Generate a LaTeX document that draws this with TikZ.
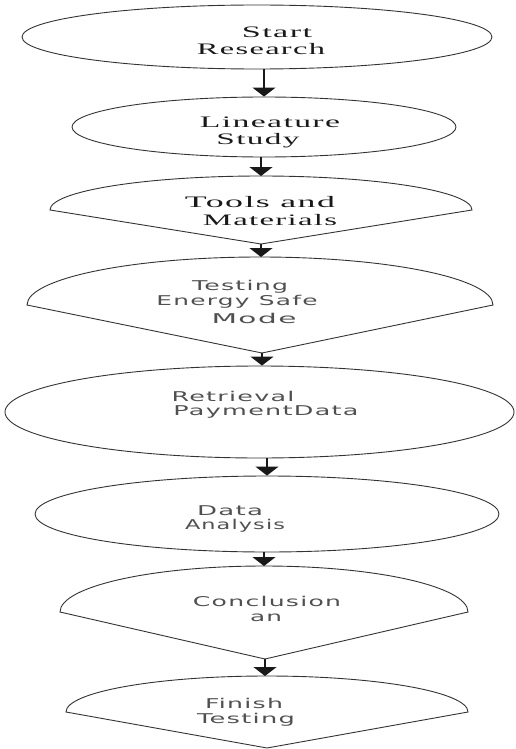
\documentclass[tikz,border=0pt]{standalone}
\usepackage{fontspec}
\usepackage{graphicx}
\usetikzlibrary{shapes.geometric,arrows.meta}
\newfontfamily\serifsp[LetterSpace=4]{Liberation Serif}
\newfontfamily\sanssp[LetterSpace=5]{DejaVu Sans}
\newcommand\stretchto[2]{\resizebox{#1}{\height}{#2}}
\definecolor{sanstext}{HTML}{505050}
\begin{document}
\begin{tikzpicture}[x=1pt,y=-1pt,
  shapeline/.style={draw=black!80, line width=0.9pt},
  ell/.style={shapeline, ellipse, inner sep=0pt},
  sline/.style={anchor=base, inner sep=0pt, font=\serifsp\fontsize{16}{18}\selectfont, text=black!90},
  aline/.style={anchor=base, inner sep=0pt, font=\sanssp\fontsize{13.5}{16}\selectfont, text=sanstext},
  flow/.style={draw=black!90, line width=1.6pt, -{Triangle[width=23pt,length=9pt]}}]
\useasboundingbox (0,0) rectangle (515,749);

% ellipses
\node[ell, minimum width=470pt, minimum height=64pt] (e1) at (257,37) {};
\node[ell, minimum width=384pt, minimum height=60pt] (e2) at (264,127) {};
\node[ell, minimum width=509pt, minimum height=92pt] (e5) at (259.5,412) {};
\node[ell, minimum width=464pt, minimum height=76pt] (e6) at (267,514) {};

% shields
\coordinate (s3l) at (50,210);  \coordinate (s3top) at (261,176); \coordinate (s3tip) at (261,244);
\coordinate (s4l) at (27,305);  \coordinate (s4top) at (260,257); \coordinate (s4tip) at (262,353);
\coordinate (s7l) at (60,612);  \coordinate (s7top) at (264,566); \coordinate (s7tip) at (265,659);
\coordinate (s8l) at (66,712);  \coordinate (s8top) at (267,676); \coordinate (s8tip) at (267,748);
\draw[shapeline] (s3l) arc[start angle=180,end angle=0,x radius=211pt,y radius=34pt] -- (s3tip) -- cycle;
\draw[shapeline] (s4l) arc[start angle=180,end angle=0,x radius=233pt,y radius=48pt] -- (s4tip) -- cycle;
\draw[shapeline] (s7l) arc[start angle=180,end angle=0,x radius=204pt,y radius=46pt] -- (s7tip) -- cycle;
\draw[shapeline] (s8l) arc[start angle=180,end angle=0,x radius=201pt,y radius=36pt] -- (s8tip) -- cycle;

% texts
\node[sline] (t1a) at (277,38) {\stretchto{70pt}{Start}};
\node[sline] (t1b) at (261,55) {\stretchto{128pt}{Research}};
\node[sline] (t2a) at (270,128) {\stretchto{140pt}{Lineature}};
\node[sline] (t2b) at (258,144) {\stretchto{83pt}{Study}};
\node[sline] (t3a) at (260,207) {\stretchto{150pt}{Tools and}};
\node[sline] (t3b) at (270,225) {\stretchto{134pt}{Materials}};
\node[aline] (t4a) at (240,290) {\stretchto{96pt}{Testing}};
\node[aline] (t4b) at (237,305) {\stretchto{161pt}{Energy Safe}};
\node[aline] (t4c) at (254,323) {\stretchto{85pt}{Mode}};
\node[aline] (t5a) at (233,401) {\stretchto{123pt}{Retrieval}};
\node[aline] (t5b) at (266,415) {\stretchto{185pt}{PaymentData}};
\node[aline] (t6a) at (230,515) {\stretchto{66pt}{Data}};
\node[aline] (t6b) at (235,529) {\stretchto{100pt}{Analysis}};
\node[aline] (t7a) at (267,606) {\stretchto{148pt}{Conclusion}};
\node[aline] (t7b) at (266,621) {\stretchto{32pt}{an}};
\node[aline] (t8a) at (244,708) {\stretchto{78pt}{Finish}};
\node[aline] (t8b) at (246,723) {\stretchto{98pt}{Testing}};

% connectors
\draw[flow] (e2.north |- e1.south) -- (e2.north);
\draw[flow] (s3top |- e2.south) -- (s3top);
\draw[flow] (s3tip) -- (s3tip |- s4top);
\draw[flow] (s4tip) -- (s4tip |- e5.north);
\draw[flow] (e6.north |- e5.south) -- (e6.north);
\draw[flow] (s7top |- e6.south) -- (s7top);
\draw[flow] (s7tip) -- (s7tip |- s8top);
\end{tikzpicture}
\end{document}
